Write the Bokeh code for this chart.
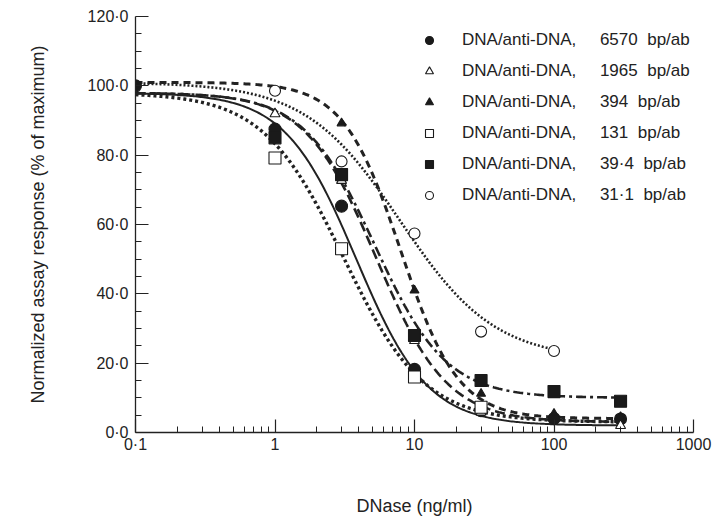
import numpy as np
from bokeh.plotting import figure
from bokeh.models import FixedTicker, Legend, LegendItem, ColumnDataSource
from bokeh.embed import file_html
from bokeh.resources import INLINE

nan = float("nan")

# ---- data ----
doses = [0.1, 1, 3, 10, 30, 100, 300]
resp_6570 = [100.0, 87.5, 65.3, 18.2, 6.3, 4.0, 3.9]
resp_1965 = [nan, 91.9, 72.7, 26.5, 5.9, nan, 2.0]
resp_394 = [nan, 98.6, 89.2, 41.0, 11.2, 5.4, 4.5]
resp_131 = [nan, 79.2, 53.0, 16.0, 7.3, nan, nan]
resp_39 = [nan, 85.0, 74.4, 28.0, 15.0, 11.8, 9.0]
resp_31 = [nan, 98.6, 78.2, 57.4, 29.1, 23.5, nan]

series_labels = ["6570", "1965", "394", "131", "39\u00b74", "31\u00b71"]

# fitted four-parameter logistic curves, parameters
fit_top = [98, 98, 101, 98, 98, 101]
fit_bottom = [2, 3, 4, 3, 10, 21]
fit_ec50 = [3.83, 5.3, 7.96, 3.1, 5.2, 7.91]
fit_hill = [1.7, 1.71, 2.11, 1.5, 1.7, 1.28]
fit_xmin = [0.1, 0.1, 0.1, 0.1, 0.1, 0.1]
fit_xmax = [300, 300, 300, 300, 300, 100]

x_tick_values = [0.1, 1, 10, 100, 1000]
x_tick_labels = ["0\u00b71", "1", "10", "100", "1000"]
y_tick_values = [0, 20, 40, 60, 80, 100, 120]
y_tick_labels = ["0\u00b70", "20\u00b70", "40\u00b70", "60\u00b70", "80\u00b70", "100\u00b70", "120\u00b70"]

# ---- styles ----
markers = ["circle", "triangle", "triangle", "square", "square", "circle"]
fills = ["#1a1a1a", "white", "#1a1a1a", "white", "#1a1a1a", "white"]
msizes = [12, 10, 9, 12, 12, 11]
dashes = ["solid", "10 5", "7 5", "3 3", "10 4 3 4", "2 2"]
lwidths = [2.0, 2.6, 3.0, 3.4, 2.6, 2.6]
all_resp = [resp_6570, resp_1965, resp_394, resp_131, resp_39, resp_31]

FONT = "Liberation Sans"
TXT = "#222222"

p = figure(width=713, height=522, x_axis_type="log", x_range=(0.1, 1000), y_range=(0, 120),
           output_backend="svg", toolbar_location=None,
           min_border_left=135, min_border_right=20, min_border_top=16, min_border_bottom=90)
p.outline_line_color = None
p.xgrid.visible = False
p.ygrid.visible = False
p.background_fill_color = "white"

# curves
for i in range(6):
    xs = np.logspace(np.log10(fit_xmin[i]), np.log10(fit_xmax[i]), 300)
    ys = fit_bottom[i] + (fit_top[i] - fit_bottom[i]) / (1 + (xs / fit_ec50[i]) ** fit_hill[i])
    p.line(xs, ys, line_color="#222222", line_width=lwidths[i], line_dash=dashes[i])

# points
items = []
for i in range(6):
    src = ColumnDataSource(dict(x=doses, y=all_resp[i]))
    r = p.scatter("x", "y", source=src, marker=markers[i], size=msizes[i],
                  fill_color=fills[i], line_color="#1a1a1a", line_width=1.1)
    items.append(LegendItem(label="DNA/anti-DNA,     " + series_labels[i] + "  bp/ab", renderers=[r]))

legend = Legend(items=items, location=(284, 227), orientation="vertical")
legend.background_fill_alpha = 0
legend.border_line_color = None
legend.padding = 0
legend.margin = 0
legend.spacing = 11
legend.glyph_width = 20
legend.glyph_height = 20
legend.label_height = 20
legend.label_standoff = 23
legend.label_text_font = FONT
legend.label_text_font_size = "17px"
legend.label_text_color = TXT
p.add_layout(legend, "center")

# axes
for ax in (p.xaxis[0], p.yaxis[0]):
    ax.axis_line_color = "#222222"
    ax.axis_line_width = 1.3
    ax.major_tick_line_color = "#222222"
    ax.minor_tick_line_color = "#222222"
    ax.major_tick_line_width = 1.2
    ax.minor_tick_line_width = 1.0
    ax.major_tick_out = 0
    ax.major_tick_in = 13
    ax.minor_tick_out = 0
    ax.minor_tick_in = 6
    ax.major_label_text_font = FONT
    ax.major_label_text_font_size = "16px"
    ax.major_label_text_color = TXT
    ax.axis_label_text_font = FONT
    ax.axis_label_text_font_size = "18px"
    ax.axis_label_text_font_style = "normal"
    ax.axis_label_text_color = TXT

x_minor = [m * d for d in [0.1, 1, 10, 100] for m in range(2, 10)]
p.xaxis[0].ticker = FixedTicker(ticks=x_tick_values, minor_ticks=x_minor)
p.xaxis[0].major_label_overrides = {v: l for v, l in zip(x_tick_values, x_tick_labels)}
p.xaxis[0].major_label_standoff = 3
p.xaxis[0].axis_label = "DNase (ng/ml)"
p.xaxis[0].axis_label_standoff = 40

y_minor = [v for v in range(0, 121, 5) if v % 20 != 0]
p.yaxis[0].ticker = FixedTicker(ticks=y_tick_values, minor_ticks=y_minor)
p.yaxis[0].major_label_overrides = {v: l for v, l in zip(y_tick_values, y_tick_labels)}
p.yaxis[0].major_label_standoff = 7
p.yaxis[0].axis_label = "Normalized assay response (% of maximum)"
p.yaxis[0].axis_label_standoff = 37

open("out.html", "w").write(file_html(p, INLINE))
